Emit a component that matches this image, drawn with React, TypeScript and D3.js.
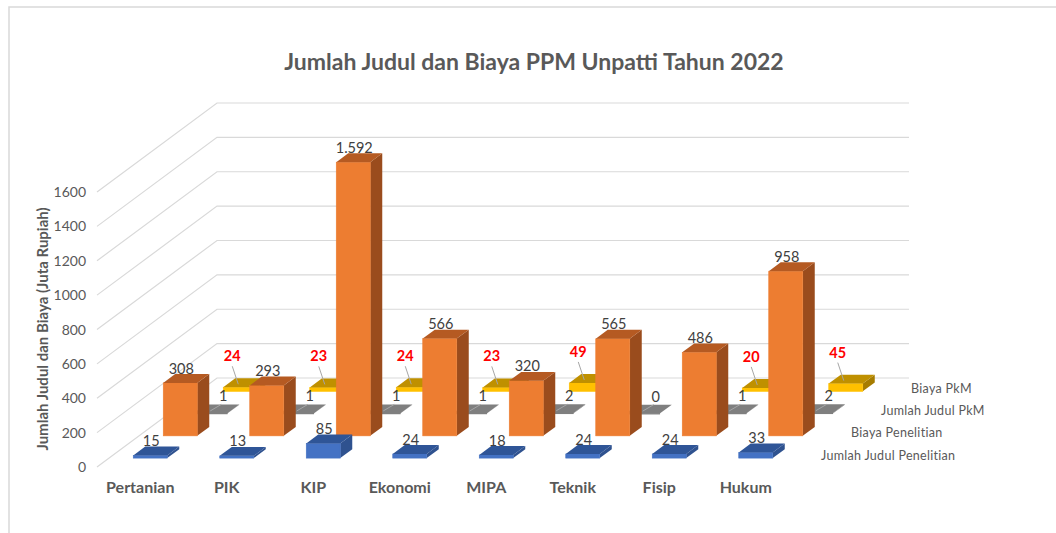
import { useEffect, useRef } from "react";
import * as d3 from "d3";

const categories = ["Pertanian", "PIK", "KIP", "Ekonomi", "MIPA", "Teknik", "Fisip", "Hukum"];
const seriesNames = ["Jumlah Judul Penelitian", "Biaya Penelitian", "Jumlah Judul PkM", "Biaya PkM"];
const judulPenelitian = [15, 13, 85, 24, 18, 24, 24, 33];
const biayaPenelitian = [308, 293, 1592, 566, 320, 565, 486, 958];
const judulPkm = [1, 1, 1, 1, 2, 0, 1, 2];
const biayaPkm: (number | null)[] = [24, 23, 24, 23, 49, null, 20, 45];
const yTicks = [0, 200, 400, 600, 800, 1000, 1200, 1400, 1600];

const title = "Jumlah Judul dan Biaya PPM Unpatti Tahun 2022";
const yTitle = "Jumlah Judul dan Biaya (Juta Rupiah)";

const FONT = "Lato, 'Open Sans', sans-serif";

function Chart() {
  const ref = useRef<SVGSVGElement>(null);

  useEffect(() => {
    const svg = d3.select(ref.current);
    svg.selectAll("*").remove();

    const width = 1056;
    const height = 533;
    const floorY = 467; // front edge of the floor
    const left = 97;
    const right = 789;
    const depth = 120; // horizontal run of the floor depth
    const slope = 89 / 120;
    const barW = 34;
    const dx = 12;
    const dy = dx * slope;

    const x = d3.scaleBand().domain(categories).range([left, right]);
    const z = d3.scaleBand().domain(seriesNames).range([0, depth]);
    const h = d3.scaleLinear().domain([0, 1600]).range([0, 275]);
    const fmt = d3.formatLocale({ decimal: ",", thousands: ".", grouping: [3], currency: ["Rp", ""] }).format(",d");

    svg.attr("width", width).attr("height", height);

    // chart border
    svg.append("rect")
      .attr("x", 9).attr("y", 7).attr("width", width + 20).attr("height", height + 20)
      .attr("fill", "#fff").attr("stroke", "#d9d9d9").attr("stroke-width", 1.5);

    // title
    svg.append("text")
      .attr("x", 534).attr("y", 70)
      .attr("text-anchor", "middle")
      .attr("font-family", FONT).attr("font-size", 23).attr("font-weight", "bold")
      .attr("fill", "#595959")
      .text(title);

    // walls gridlines
    const grid = svg.append("g").attr("stroke", "#d9d9d9").attr("stroke-width", 1.2).attr("fill", "none");
    yTicks.forEach((t) => {
      const yf = floorY - h(t);
      const yb = yf - depth * slope;
      grid.append("path").attr("d", `M${left},${yf}L${left + depth},${yb}L${right + depth},${yb}`);
    });

    // y tick labels
    svg.append("g")
      .selectAll("text")
      .data(yTicks)
      .join("text")
      .attr("x", 86)
      .attr("y", (d) => floorY - h(d) + 5)
      .attr("text-anchor", "end")
      .attr("font-family", FONT).attr("font-size", 14)
      .attr("fill", "#595959")
      .text((d) => d);

    // y title
    svg.append("text")
      .attr("transform", "translate(48,329) rotate(-90)")
      .attr("text-anchor", "middle")
      .attr("font-family", FONT).attr("font-size", 15).attr("font-weight", "bold")
      .attr("fill", "#595959")
      .text(yTitle);

    // category labels
    svg.append("g")
      .selectAll("text")
      .data(categories)
      .join("text")
      .attr("x", (d) => x(d)! + x.bandwidth() / 2)
      .attr("y", 493)
      .attr("text-anchor", "middle")
      .attr("font-family", FONT).attr("font-size", 16).attr("font-weight", "bold")
      .attr("fill", "#595959")
      .text((d) => d);

    // series (depth) labels
    svg.append("g")
      .selectAll("text")
      .data(seriesNames)
      .join("text")
      .attr("x", (d) => right + z(d)! + 18 + 14)
      .attr("y", (d) => floorY - (z(d)! + 18) * slope + 6)
      .attr("font-family", FONT).attr("font-size", 12.5)
      .attr("letter-spacing", 0.3)
      .attr("fill", "#595959")
      .text((d) => d);

    const series = [
      { name: seriesNames[0], values: judulPenelitian, front: "#4472c4", top: "#2f5597", side: "#2f528f", label: "plain" },
      { name: seriesNames[1], values: biayaPenelitian, front: "#ed7d31", top: "#b55a22", side: "#9a4c1d", label: "plain" },
      { name: seriesNames[2], values: judulPkm, front: "#7f7f7f", top: "#7f7f7f", side: "#5f5f5f", label: "side" },
      { name: seriesNames[3], values: biayaPkm, front: "#ffc000", top: "#bf9000", side: "#a67c00", label: "above" },
    ];

    const bars = svg.append("g");
    const labels = svg.append("g").attr("font-family", FONT).attr("font-size", 14.5);

    series.slice().reverse().forEach((s) => {
      const zf = z(s.name)! + 12;
      const yb = floorY - zf * slope;
      s.values.forEach((v, i) => {
        if (v == null) return;
        const x0 = x(categories[i])! + x.bandwidth() / 2 - 2 - barW / 2 + zf;
        const yt = yb - h(v);
        const g = bars.append("g");
        g.append("polygon")
          .attr("points", [[x0 + barW, yb], [x0 + barW + dx, yb - dy], [x0 + barW + dx, yt - dy], [x0 + barW, yt]].join(" "))
          .attr("fill", s.side);
        g.append("rect")
          .attr("x", x0).attr("y", yt).attr("width", barW).attr("height", Math.max(yb - yt, 0.5))
          .attr("fill", s.front).attr("stroke", s.front).attr("stroke-width", 0.6);
        g.append("polygon")
          .attr("points", [[x0, yt], [x0 + dx, yt - dy], [x0 + barW + dx, yt - dy], [x0 + barW, yt]].join(" "))
          .attr("fill", s.top);

        const cx = x0 + barW / 2;
        if (s.label === "plain") {
          labels.append("text")
            .attr("x", cx + 1).attr("y", yt - dy - 0.5)
            .attr("text-anchor", "middle").attr("fill", "#404040")
            .text(fmt(v));
        } else if (s.label === "side") {
          labels.append("line")
            .attr("x1", cx).attr("y1", yt - 2.5).attr("x2", cx + 11).attr("y2", yt - 9)
            .attr("stroke", "#a6a6a6").attr("stroke-width", 1);
          labels.append("text")
            .attr("x", cx + 13).attr("y", yt - 12)
            .attr("text-anchor", "middle").attr("fill", "#404040")
            .text(fmt(v));
        } else {
          const lx = cx - 8;
          const ly = yt - 26;
          labels.append("line")
            .attr("x1", lx).attr("y1", ly + 5).attr("x2", cx - 2).attr("y2", yt - 3)
            .attr("stroke", "#a6a6a6").attr("stroke-width", 1);
          labels.append("text")
            .attr("x", lx).attr("y", ly)
            .attr("text-anchor", "middle").attr("fill", "#ff0000").attr("font-weight", "bold")
            .text(fmt(v));
        }
      });
    });
  }, []);

  return <svg ref={ref} style={{ position: "absolute", left: 0, top: 0, display: "block" }}></svg>;
}

export default function App() {
  return <Chart />;
}
